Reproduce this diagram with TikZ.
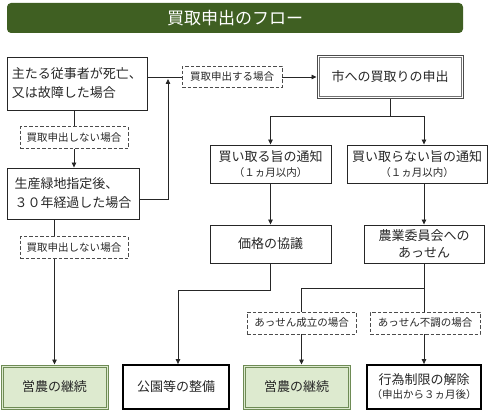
\documentclass[tikz,border=0pt]{standalone}
\usepackage{fontspec}
\setmainfont{Noto Sans CJK JP}
\usepackage{xcolor}
\usetikzlibrary{arrows.meta,positioning,calc}
\definecolor{titlegreen}{HTML}{3F5F22}
\definecolor{leafgreen}{HTML}{DDEACF}
\definecolor{leafedge}{HTML}{6E8B55}
\newcommand{\notefont}{\fontsize{10.5}{13}\selectfont}

\begin{document}
\begin{tikzpicture}[
  x=1pt, y=-1pt,
  box/.style={draw=black!85, line width=0.9pt, inner sep=0pt, align=center, text=black!85, font=\fontsize{13}{19}\selectfont},
  askbox/.style={box, draw=black!70, line width=1pt},
  endbox/.style={box, draw=black, line width=1.8pt},
  farmbox/.style={box, fill=leafgreen, draw=leafedge, line width=1pt},
  innerframe/.style={line width=0.6pt},
  caselabel/.style={draw=black!70, dash pattern=on 3.5pt off 2pt, line width=0.8pt, inner sep=0pt, minimum height=22pt, text=black!85, font=\fontsize{10.5}{12}\selectfont},
  arr/.style={-{Triangle[length=5pt, width=4.5pt]}, line width=0.8pt, draw=black!85},
  link/.style={line width=0.8pt, draw=black!85},
]
\useasboundingbox (0,0) rectangle (490,412);

\node[box, fill=titlegreen, draw=none, rounded corners=4pt, minimum width=456pt, minimum height=30pt, text=white, font=\fontsize{17}{19}\selectfont] (title) at (235,18) {買取申出のフロー};

\node[box, minimum width=140pt, minimum height=53pt, align=left] (death) at (77,83.5) {主たる従事者が死亡、\\又は故障した場合};
\node[box, minimum width=132pt, minimum height=51pt, align=left] (years) at (73,193.5) {生産緑地指定後、\\３０年経過した場合};
\node[caselabel, minimum width=108pt] (nosell1) at (74,137.5) {買取申出しない場合};
\node[caselabel, minimum width=108pt] (nosell2) at (74,247.5) {買取申出しない場合};
\node[caselabel, minimum width=100pt, minimum height=21pt] (sell) at (232,77) {買取申出する場合};
\node[askbox, minimum width=146pt, minimum height=42pt] (city) at (390,77) {市への買取りの申出};

\node[box, minimum width=121pt, minimum height=38pt] (buy) at (270.5,164) {買い取る旨の通知\\[-4pt]{\notefont （１ヵ月以内）}};
\node[box, minimum width=140pt, minimum height=38pt] (nobuy) at (417,164) {買い取らない旨の通知\\[-4pt]{\notefont （１ヵ月以内）}};
\node[box, minimum width=121pt, minimum height=38pt] (price) at (270.5,244) {価格の協議};
\node[box, minimum width=120pt, minimum height=38pt] (agri) at (424,244) {農業委員会への\\[-2pt]あっせん};
\node[caselabel, minimum width=109pt] (deal) at (301.5,323) {あっせん成立の場合};
\node[caselabel, minimum width=110pt] (nodeal) at (425,323) {あっせん不調の場合};

\node[farmbox, minimum width=107pt, minimum height=44pt] (farm1) at (54.5,387) {営農の継続};
\node[endbox, minimum width=106pt, minimum height=44pt] (park) at (176,387) {公園等の整備};
\node[farmbox, minimum width=107pt, minimum height=44pt] (farm2) at (296.5,387) {営農の継続};
\node[endbox, minimum width=114pt, minimum height=44pt] (lift) at (424,387) {行為制限の解除\\[-5pt]{\notefont （申出から３ヵ月後）}};

% inner frames
\draw[innerframe, black!55] ([shift={(2.3pt,-2.3pt)}]city.north west) rectangle ([shift={(-2.3pt,2.3pt)}]city.south east);
\foreach \n in {farm1,farm2}
  \draw[innerframe, leafedge] ([shift={(2.3pt,-2.3pt)}]\n.north west) rectangle ([shift={(-2.3pt,2.3pt)}]\n.south east);

% left column
\coordinate (join) at (168,79);
\draw[link] (death.east |- sell) -- (sell);
\draw[arr] (sell) -- (city);
\draw[arr] ([yshift=-5.5pt]years.east) -| (join);
\draw[link] (death.south -| nosell1) -- (nosell1);
\draw[arr] (nosell1) -- (nosell1 |- years.north);
\draw[link] (years.south -| farm1) -- (nosell2.north -| farm1);
\draw[arr] (nosell2.south -| farm1) -- (farm1);

% right side
\coordinate (split) at (390,116);
\draw[link] (city) -- (split);
\draw[arr] (split) -| (buy);
\draw[arr] (split) -| (nobuy.north -| agri);
\draw[arr] (buy) -- (price);
\draw[arr] (nobuy.south -| agri) -- (agri);
\coordinate (parkturn) at (270.5,290);
\draw[arr] (price) -- (parkturn) -| ([xshift=2pt]park.north);
\coordinate (dealturn) at (424,288);
\draw[link] (agri.south) -- (agri.south |- nodeal.north);
\draw[link] (dealturn) -| (deal);
\draw[arr] (deal) -- (deal |- farm2.north);
\draw[arr] (nodeal.south -| agri) -- (lift);
\end{tikzpicture}
\end{document}
